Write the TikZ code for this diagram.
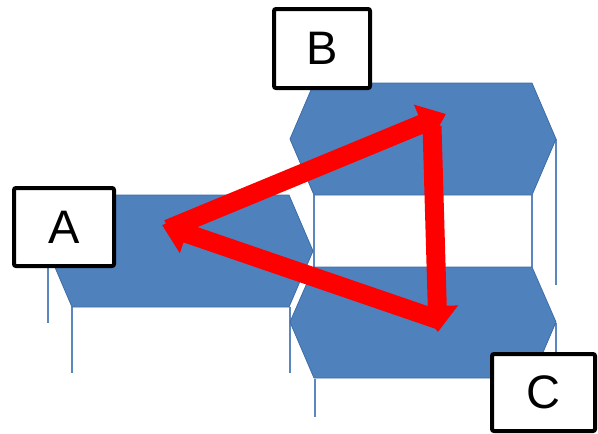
\documentclass[tikz,border=0pt]{standalone}
\usepackage{fontspec}
\setmainfont{Liberation Sans}
\usetikzlibrary{arrows.meta}
\definecolor{hexfill}{HTML}{4F81BD}
\definecolor{hexedge}{HTML}{3F6DA8}
\definecolor{vline}{HTML}{5A87C0}
\tikzset{
  hexshape/.style={fill=hexfill, draw=hexedge, line width=0.8pt, line join=round},
  edgeline/.style={draw=vline, line width=2pt},
  labelbox/.style={draw=black, fill=white, line width=4pt, rounded corners=2pt,
    inner sep=0pt, font=\fontsize{47}{50}\selectfont},
  bigarrow/.style={draw=red, line width=19pt,
    -{Triangle[width=40pt,length=26pt]}},
}
\begin{document}
\begin{tikzpicture}[x=1pt,y=-1pt]
\useasboundingbox (0,0) rectangle (598,434);
% vertical prism lines
\draw[edgeline] (48,251) -- (48,323);
\draw[edgeline] (72,307) -- (72,373);
\draw[edgeline] (290,307) -- (290,373);
\draw[edgeline] (314,195) -- (314,267);
\draw[edgeline] (532,195) -- (532,267);
\draw[edgeline] (556,139) -- (556,285);
\draw[edgeline] (315,379) -- (315,417);
\draw[edgeline] (556,323) -- (556,360);
\draw[edgeline] (532,379) -- (532,400);
% hexagons
\path[hexshape] (48,251) -- (72,195) -- (289,195) -- (313,251) -- (289,307) -- (72,307) -- cycle;
\path[hexshape] (290,139) -- (314,83) -- (532,83) -- (556,139) -- (532,195) -- (314,195) -- cycle;
\path[hexshape] (290,322) -- (314,267) -- (532,267) -- (556,322) -- (532,378) -- (314,378) -- cycle;
% label boxes
\node[labelbox, minimum width=100pt, minimum height=78pt] (A) at (64,227) {A};
\node[labelbox, minimum width=96pt, minimum height=79pt] (B) at (322,48.5) {B};
\node[labelbox, minimum width=103pt, minimum height=77pt] (C) at (543.5,392.5) {C};
% arrow end points
\coordinate (a1) at (168,229);
\coordinate (b1) at (446,114);
\coordinate (b2) at (432,126);
\coordinate (c1) at (438,332);
\coordinate (c2) at (442,321);
\coordinate (a2) at (162,225);
% arrows
\draw[bigarrow] (a1) -- (b1);
\draw[bigarrow] (b2) -- (c1);
\draw[bigarrow] (c2) -- (a2);
\end{tikzpicture}
\end{document}
